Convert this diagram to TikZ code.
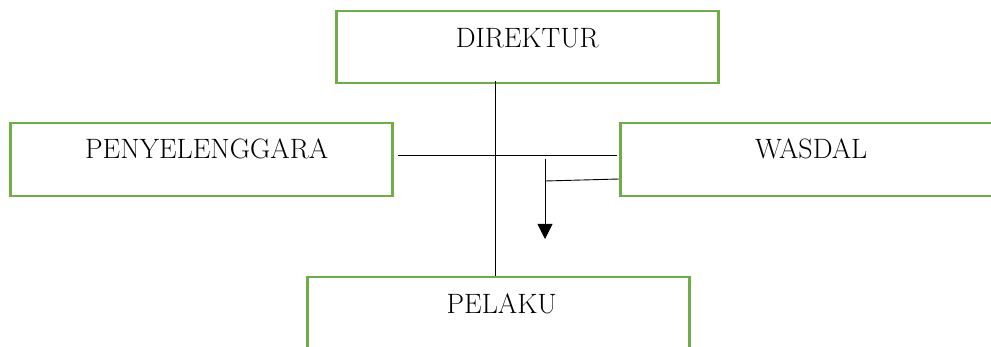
\documentclass[tikz,border=0pt]{standalone}
\usetikzlibrary{arrows.meta}
\definecolor{boxgreen}{HTML}{70AD47}
\begin{document}
\begin{tikzpicture}[x=1pt,y=-1pt,
  orgbox/.style={draw=boxgreen, line width=2.5pt, minimum width=382pt, inner sep=0pt,
    text height=36pt, text depth=36pt, anchor=north west, font=\fontsize{28}{32}\selectfont},
  conn/.style={draw=black, line width=0.9pt},
  arr/.style={conn, -{Triangle[width=15pt,length=15pt]}}]
\clip (0,0) rectangle (991,347);
\fill[white] (0,0) rectangle (991,347);
\node[orgbox] (direktur) at (335,10) {DIREKTUR};
\node[orgbox, text height=35pt, text depth=38pt] (penyelenggara) at (9,122) {\hspace{11pt}PENYELENGGARA};
\node[orgbox, text height=35pt, text depth=38pt] (wasdal) at (619,122) {WASDAL};
\node[orgbox] (pelaku) at (306,276) {\hspace{7pt}PELAKU};
\coordinate (vtop) at (495,81);
\coordinate (hleft) at (398,155);
\coordinate (hright) at (617,155);
\coordinate (atop) at (545,159);
\coordinate (atip) at (545,239);
\coordinate (sleft) at (545,181);
\coordinate (sright) at (619,179);
\draw[conn] (vtop) -- (vtop |- pelaku.north);
\draw[conn] (hleft) -- (hright);
\draw[arr] (atop) -- (atip);
\draw[conn] (sleft) -- (sright);
\end{tikzpicture}
\end{document}
